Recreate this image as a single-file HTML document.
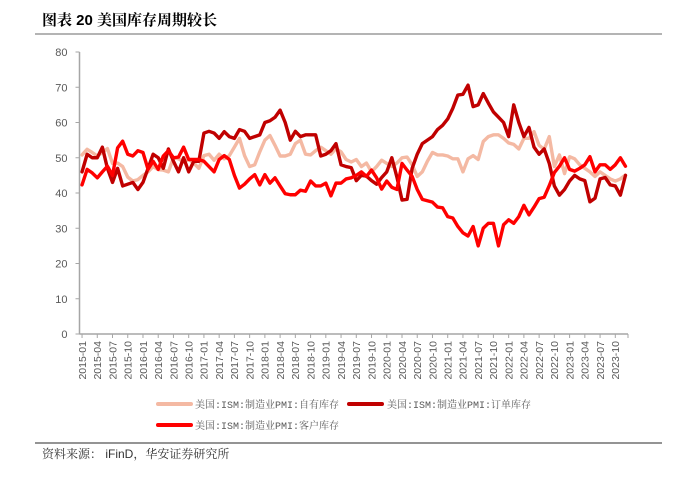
<!DOCTYPE html>
<html><head><meta charset="utf-8">
<style>
html,body{margin:0;padding:0;background:#fff;}
body{width:678px;height:474px;overflow:hidden;position:relative;font-family:"Liberation Sans","Noto Sans CJK SC",sans-serif;}
</style></head>
<body>
<svg id="chart" width="678" height="474" viewBox="0 0 678 474" xmlns="http://www.w3.org/2000/svg">
  <text x="42" y="25" font-size="15" font-weight="bold" fill="#000" font-family="'Liberation Sans','Noto Serif CJK SC',serif">图表 20  美国库存周期较长</text>
  <line x1="35" y1="34" x2="662" y2="34" stroke="#888" stroke-width="1.2"/>
  <g id="yaxis"></g>
  <g id="xaxis"></g>
  <g id="series"></g>
  <g font-size="10" fill="#595959" font-family="'Liberation Mono','Noto Serif CJK SC',monospace">
    <g>
      <line x1="158" y1="404" x2="191" y2="404" stroke="#F4B9A3" stroke-width="4" stroke-linecap="round"/>
      <text x="195" y="408">美国:ISM:制造业PMI:自有库存</text>
    </g>
    <g>
      <line x1="349" y1="404" x2="382" y2="404" stroke="#C00000" stroke-width="4" stroke-linecap="round"/>
      <text x="387" y="408">美国:ISM:制造业PMI:订单库存</text>
    </g>
    <g>
      <line x1="158" y1="425" x2="191" y2="425" stroke="#FF0000" stroke-width="4" stroke-linecap="round"/>
      <text x="195" y="429">美国:ISM:制造业PMI:客户库存</text>
    </g>
  </g>
  <line x1="35" y1="443" x2="662" y2="443" stroke="#555" stroke-width="1.2"/>
  <text x="42" y="458" font-size="12" fill="#333" font-family="'Liberation Sans','Noto Serif CJK SC',serif">资料来源： iFinD，华安证券研究所</text>
</svg>
<script>
const startYear = 2015;
const monthCount = 108;
const yTicks = [0,10,20,30,40,50,60,70,80];
const ownInventory = [50.8,52.4,51.5,50.5,51.5,52.6,48.4,48.5,47.5,44.5,43.4,43.8,
45,46,47.5,46.6,46.5,46,50,49.7,48.8,49.5,48.5,47,
50.6,51,49.3,51,49.7,50.6,53,55.5,50.6,47.5,48,51.7,
55,56.3,53.5,50.5,50.5,51,54,55,51,50.8,52,53,
52,51,52.6,51.7,49.5,48.8,49.5,47.5,48.5,46,47.5,49.3,
48.4,47.5,48.5,50,50.2,48,44.7,46,49,51.5,50.8,50.8,
50.5,49.7,49.7,46,49.7,50.6,49.5,54.6,56,56.5,56.5,55.5,
54.2,53.8,52.5,55.5,55.5,57.4,53.5,52.4,56,47.5,50.8,45.5,
50.3,49.7,48,47,46,44.7,46,45,44,43.4,44,45.1];
const orderBacklog = [46,51,50,50,53,47,43,47,42,42.5,43,41,
43,47,51,50,47,52.5,49,46,50,46,49,49,
57,57.5,57,55.5,57.4,56,55.5,58,57.5,55.5,56,56.5,
60,60.5,61.5,63.5,60,55,57.5,56,56.5,56.5,56.5,50.5,
51,52,54,48,47.5,47.2,43.5,45,44.8,43.5,42.5,44.4,
46,50,44.5,38,38.2,47,51,54,55,56,58,59.2,
61,64,67.8,68,70.6,64.5,65,68.2,65.5,63,61.5,60,
56,65,60,56,58.6,53,51,52.5,48.4,42,39.4,41,
43.4,45,44,43.5,37.5,38.5,44,44.4,42.3,42,39.4,45];
const customerInventory = [42.3,46.7,45.7,44.3,46,47.6,45,52.8,54.7,51,50.5,52,
51.5,46.7,49,46.7,50.5,52,50,50.2,53,49.5,49.5,49.5,
49,47.5,46,49.5,50.6,49.5,45,41.4,42.5,44,45.2,42.3,
45.2,42.8,44.3,42,39.8,39.5,39.5,40.8,40.5,43.4,42,42,
42.8,39.2,42.8,42.8,44,44.3,45,46,44.7,46.5,44.3,41.1,
43.4,41.6,41,48.4,46.5,44.7,41,38.2,37.8,37.4,36,35.8,
33.3,32.9,30.5,28.7,27.8,30.5,25,30,31.4,31.4,25,31,
32.4,31.4,33.3,36.5,33.8,36,38.4,38.8,42.1,45.8,47.6,50,
46.7,46.2,47,48,50.3,46,48,48,46.7,48,50,47.6];

const NS='http://www.w3.org/2000/svg';
const plotL=79.5, plotR=628, plotT=52, plotB=334, yMax=80;
const band=(plotR-plotL)/monthCount;
function xPos(i){return plotL+band*(i+0.5);}
function yPos(v){return plotB-(v/yMax)*(plotB-plotT);}
function mk(tag,attrs,parent){const e=document.createElementNS(NS,tag);for(const k in attrs)e.setAttribute(k,attrs[k]);parent.appendChild(e);return e;}
function label(i){const y=startYear+Math.floor(i/12);const m=i%12+1;return y+'-'+(m<10?'0':'')+m;}

const ya=document.getElementById('yaxis');
const yl=mk('line',{x1:plotL,y1:plotT,x2:plotL,y2:plotB,stroke:'#A6A6A6','stroke-width':1.5},ya);


yTicks.forEach(t=>{
  const tk=mk('line',{x1:plotL-4,y1:yPos(t),x2:plotL,y2:yPos(t),stroke:'#A6A6A6','stroke-width':1},ya);
  
  
  const tx=mk('text',{x:plotL-12,y:yPos(t)+4,'font-size':11,fill:'#595959','text-anchor':'end'},ya);
  
  
  tx.textContent=t;
});

const xa=document.getElementById('xaxis');
const xl=mk('line',{x1:plotL,y1:plotB,x2:plotR,y2:plotB,stroke:'#A6A6A6','stroke-width':1.5},xa);


for(let i=0;i<monthCount;i+=3){
  const x=xPos(i);
  const tk=mk('line',{x1:x,y1:plotB,x2:x,y2:plotB+4,stroke:'#A6A6A6','stroke-width':1},xa);
  
  
  const tx=mk('text',{x:0,y:0,'font-size':10.5,fill:'#595959','text-anchor':'end',transform:'translate('+(x+3.8)+','+(plotB+7)+') rotate(-90)'},xa);
  
  
  tx.textContent=label(i);
}
const lastTick=mk('line',{x1:plotR,y1:plotB,x2:plotR,y2:plotB+4,stroke:'#A6A6A6','stroke-width':1},xa);



const sg=document.getElementById('series');
function drawSeries(vals,color,name){
  const d=vals.map((v,i)=>(i?'L':'M')+xPos(i).toFixed(2)+' '+yPos(v).toFixed(2)).join(' ');
  const p=mk('path',{d:d,fill:'none',stroke:color,'stroke-width':3.4,'stroke-linejoin':'round','stroke-linecap':'round'},sg);
  
  
}
drawSeries(ownInventory,'#F4B9A3','line-own-inventory');
drawSeries(orderBacklog,'#C00000','line-order-backlog');
drawSeries(customerInventory,'#FF0000','line-customer-inventory');
</script>
</body></html>
